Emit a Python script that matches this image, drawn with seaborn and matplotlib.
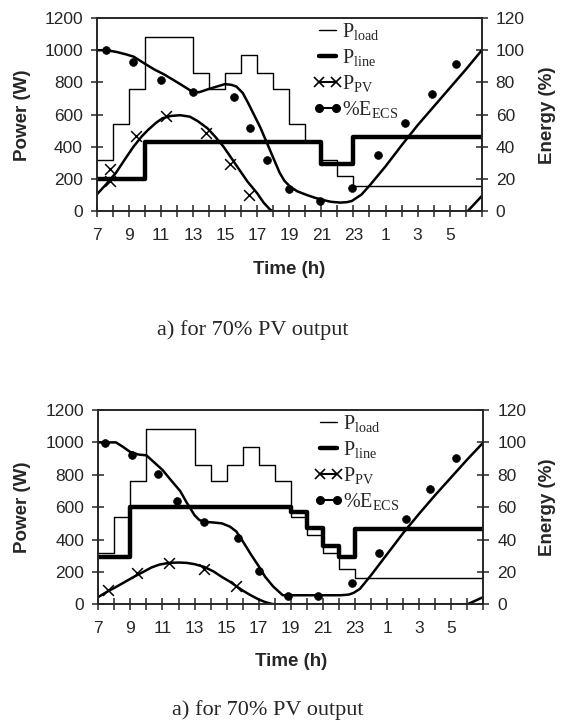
import numpy as np
import pandas as pd
import matplotlib
matplotlib.use("Agg")
import matplotlib.pyplot as plt
import seaborn as sns
from matplotlib.lines import Line2D
from matplotlib.ticker import MultipleLocator, FixedLocator, FixedFormatter

sns.set_style("ticks")
plt.rcParams["font.family"] = ["Liberation Sans", "DejaVu Sans"]
plt.rcParams["mathtext.fontset"] = "custom"
plt.rcParams["mathtext.rm"] = "Liberation Serif"
plt.rcParams["mathtext.it"] = "Liberation Serif:italic"

# hours 7 -> 31 (31 = 7h next morning)
hours = list(range(7, 32))

# load (W), same in both cases, one value per hourly slot (last one repeats at 31)
load = [320, 540, 760, 1080, 1080, 1080, 860, 760, 860, 970, 860, 760, 540, 430, 320, 220,
        160, 160, 160, 160, 160, 160, 160, 160, 160]
line_a = [200, 200, 200, 430, 430, 430, 430, 430, 430, 430, 430, 430, 430, 430, 295, 295,
          460, 460, 460, 460, 460, 460, 460, 460, 460]
line_b = [295, 295, 600, 600, 600, 600, 600, 600, 600, 600, 600, 600, 570, 470, 360, 295,
          465, 465, 465, 465, 465, 465, 465, 465, 465]

# PV curves (W)
pv_a_h = [7, 7.6, 8.2, 8.8, 9.3, 9.8, 10.2, 10.7, 11.1, 11.6, 12.2, 12.8, 13.3, 13.9, 14.4,
          14.9, 15.4, 15.9, 16.4, 17.0, 17.4, 17.8, 18.0, 30.1, 31]
pv_a = [105, 170, 240, 330, 403, 465, 506, 550, 578, 592, 597, 588, 560, 516, 462,
        402, 330, 257, 185, 113, 55, 12, 0, 0, 96]
pv_a_mh = [7.8, 7.85, 9.45, 11.3, 13.8, 15.3, 16.5]
pv_a_m = [262, 190, 469, 595, 486, 296, 105]

pv_b_h = [7, 7.5, 8.1, 8.6, 9.2, 9.8, 10.3, 10.8, 11.4, 12.0, 12.5, 13.0, 13.6, 14.2, 14.7,
          15.2, 15.6, 16.0, 16.5, 17.0, 17.4, 17.8, 18.0, 30.0, 31]
pv_b = [45, 75, 107, 135, 169, 200, 227, 245, 256, 258, 256, 248, 231, 202, 169,
        140, 112, 85, 56, 30, 14, 3, 0, 0, 45]
pv_b_mh = [7.6, 9.4, 11.4, 13.6, 15.6]
pv_b_m = [90, 191, 256, 221, 116]

# ECS energy (%)
e_a_h = [7, 7.6, 8.2, 8.8, 9.3, 9.7, 10.1, 10.6, 11.2, 11.7, 12.2, 12.6, 13.0, 13.4, 14.0,
         14.5, 15.0, 15.4, 15.7, 16.1, 16.45, 16.8, 17.2, 17.5, 17.8, 18.1, 18.4, 18.7,
         19.05, 19.5, 20.1, 20.6, 21.1, 21.6, 22.2, 22.6, 22.9, 23.2, 23.5, 24, 25, 26,
         27, 28, 29, 30, 31]
e_a = [100, 100, 99, 97.5, 96, 93.5, 91, 88, 85, 82, 79, 76.5, 74, 74, 76,
       77.5, 79, 78.5, 77.5, 73.5, 67, 60, 52, 45, 38, 31, 24, 19,
       15.4, 12.5, 10.2, 8.5, 7.1, 6, 5.5, 5.8, 6.5, 8.5, 10.5, 16, 28, 41,
       53.5, 65, 76.5, 88, 100]
e_a_mh = [7.56, 9.27, 11.0, 12.97, 15.55, 16.58, 17.6, 19.0, 20.9, 22.9, 24.5, 26.2, 27.9, 29.4]
e_a_m = [100.4, 92.8, 81.5, 74, 71, 52, 31.7, 13.8, 6.8, 14.6, 35, 54.7, 72.8, 91.4]

e_b_h = [7, 7.5, 8.1, 8.5, 9.0, 9.5, 10.0, 10.5, 11.0, 11.5, 12.1, 12.5, 13.0, 13.3, 13.6,
         14.2, 14.7, 15.2, 15.6, 16.0, 16.5, 17.0, 17.4, 17.9, 18.5, 19.0, 20.0, 21.0,
         22.1, 22.6, 22.9, 23.3, 24, 25, 26, 27, 28, 29, 30, 31]
e_b = [100, 100, 100, 97.5, 94, 92.5, 92, 87.5, 83, 77, 70, 63, 55, 52, 51,
       50.5, 50, 48, 45, 39, 31, 23.5, 17, 11, 5.6, 5.6, 5.6, 5.6,
       5.6, 6, 7, 9.5, 18, 31, 44, 56, 67.5, 78.5, 89.5, 100]
e_b_mh = [7.4, 9.07, 10.7, 11.9, 13.6, 15.7, 17.0, 18.8, 20.7, 22.8, 24.5, 26.2, 27.7, 29.3]
e_b_m = [99.6, 92, 80.6, 64, 51, 41, 20.7, 5.4, 5.4, 13.4, 32, 52.5, 71.5, 90.3]

caption = "a) for 70% PV output"
tick_pos = list(range(7, 30, 2))
tick_lab = [str(h % 24) for h in tick_pos]

fig = plt.figure(figsize=(5.63, 7.24), dpi=100)


def panel(rect, line, pv_h, pv, pv_mh, pv_m, e_h, e, e_mh, e_m):
    ax = fig.add_axes(rect)
    ax2 = ax.twinx()
    sns.lineplot(x=hours, y=load, ax=ax, color="black", lw=1.0, drawstyle="steps-post")
    sns.lineplot(x=hours, y=line, ax=ax, color="black", lw=3.2, drawstyle="steps-post")
    sns.lineplot(x=pv_h, y=pv, ax=ax, color="black", lw=1.8)
    sns.scatterplot(x=pv_mh, y=pv_m, ax=ax, color="black", marker="x", s=60, linewidth=1.1)
    sns.lineplot(x=e_h, y=e, ax=ax2, color="black", lw=1.8)
    sns.scatterplot(x=e_mh, y=e_m, ax=ax2, color="black", s=32, edgecolor="black")

    ax.set_xlim(7, 31)
    ax.set_ylim(0, 1200)
    ax2.set_ylim(0, 120)
    ax.yaxis.set_major_locator(MultipleLocator(200))
    ax2.yaxis.set_major_locator(MultipleLocator(20))
    ax.xaxis.set_major_locator(FixedLocator(tick_pos))
    ax.xaxis.set_major_formatter(FixedFormatter(tick_lab))
    ax.xaxis.set_minor_locator(MultipleLocator(1))
    ax.set_xlabel("")
    ax.set_ylabel("")
    ax2.set_ylabel("")
    for a in (ax, ax2):
        for s in a.spines.values():
            s.set_linewidth(1.2)
            s.set_visible(True)
    ax.tick_params(axis="x", which="both", direction="inout", length=8, width=1.1,
                   pad=8, labelsize=12.5)
    ax.tick_params(axis="y", direction="inout", length=9, width=1.1, pad=5.5, labelsize=12.5)
    ax2.tick_params(axis="y", direction="inout", length=9, width=1.1, pad=5.5, labelsize=12.5)

    handles = [
        Line2D([], [], color="black", lw=1.0),
        Line2D([], [], color="black", lw=3.2),
        Line2D([], [], color="black", lw=1.5, marker="x", ms=7, mew=1.2),
        Line2D([], [], color="black", lw=1.5, marker="o", ms=5.5),
    ]
    labels = [r"P$_{\mathrm{load}}$", r"P$_{\mathrm{line}}$", r"P$_{\mathrm{PV}}$",
              r"%E$_{\mathrm{ECS}}$"]
    ax2.legend(handles, labels, loc="upper left", bbox_to_anchor=(0.555, 0.995),
               frameon=False, numpoints=2, handlelength=1.45, handletextpad=0.0,
               borderpad=0.1, borderaxespad=0.0, labelspacing=0.25,
               prop={"family": "Liberation Serif", "size": 14.5})
    return ax


panel([0.1718, 0.7079, 0.684, 0.2673], line_a, pv_a_h, pv_a, pv_a_mh, pv_a_m,
      e_a_h, e_a, e_a_mh, e_a_m)
panel([0.1746, 0.1653, 0.684, 0.2684], line_b, pv_b_h, pv_b, pv_b_mh, pv_b_m,
      e_b_h, e_b, e_b_mh, e_b_m)

for yc in [115, 507]:
    fig.text(23 / 563, 1 - yc / 724, "Power (W)", rotation=90, ha="center", va="center",
             fontsize=13.5, fontweight="bold")
    fig.text(547 / 563, 1 - yc / 724, "Energy (%)", rotation=90, ha="center", va="center",
             fontsize=13.5, fontweight="bold")

fig.text(289 / 563, 1 - 269.5 / 724, "Time (h)", ha="center", va="center",
         fontsize=13.5, fontweight="bold")
fig.text(291 / 563, 1 - 662 / 724, "Time (h)", ha="center", va="center",
         fontsize=13.5, fontweight="bold")

fig.text(253 / 563, 1 - 330 / 724, caption, ha="center", va="center",
         family="Liberation Serif", fontsize=16)
fig.text(268 / 563, 1 - 710 / 724, caption, ha="center", va="center",
         family="Liberation Serif", fontsize=16)

fig.savefig("out.png", dpi=100)
